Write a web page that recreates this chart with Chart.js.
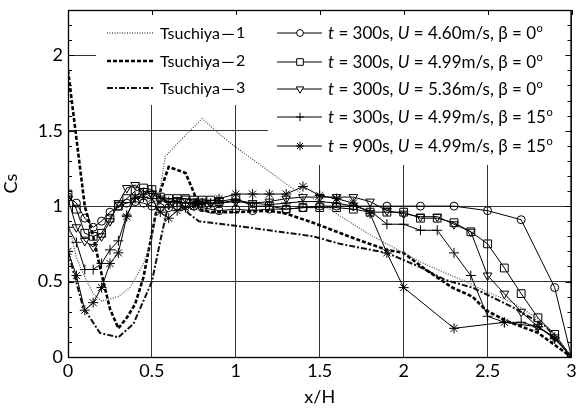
<!DOCTYPE html>
<html>
<head>
<meta charset="utf-8">
<script src="https://cdn.jsdelivr.net/npm/chart.js@4.4.1/dist/chart.umd.min.js"></script>
<style>
  html, body { margin: 0; padding: 0; background: #fff; }
  #wrap { width: 578px; height: 409px; }
</style>
</head>
<body>
<div id="wrap"><canvas id="cs" width="578" height="409"></canvas></div>
<script>
// x ticks / y ticks
const xTicks = [0, 0.5, 1, 1.5, 2, 2.5, 3];
const yMajor = [0, 0.5, 1, 1.5, 2];

// Tsuchiya reference curves
const tsu1X = [0, 0.05, 0.1, 0.15, 0.2, 0.3, 0.37, 0.45, 0.5, 0.58, 0.7, 0.8, 0.9, 1.0, 1.1, 1.2, 1.32, 1.4, 1.5, 1.6, 1.7, 1.8, 1.9, 2.0, 2.1, 2.2, 2.37, 2.5, 2.65, 2.79, 2.9, 3.0];
const tsu1Y = [0.90, 0.66, 0.53, 0.42, 0.37, 0.40, 0.46, 0.62, 0.78, 1.33, 1.47, 1.58, 1.48, 1.39, 1.31, 1.23, 1.13, 1.08, 1.03, 0.95, 0.88, 0.81, 0.75, 0.69, 0.63, 0.58, 0.50, 0.43, 0.36, 0.26, 0.15, 0];
const tsu2X = [0, 0.05, 0.1, 0.15, 0.2, 0.25, 0.3, 0.35, 0.4, 0.45, 0.5, 0.55, 0.6, 0.7, 0.75, 0.78, 0.85, 1.0, 1.2, 1.3, 1.46, 1.72, 1.9, 2.0, 2.13, 2.29, 2.41, 2.49, 2.61, 2.8, 3.0];
const tsu2Y = [1.90, 1.45, 1.00, 0.80, 0.55, 0.32, 0.19, 0.26, 0.35, 0.53, 0.82, 1.10, 1.26, 1.22, 1.09, 0.98, 0.96, 0.96, 0.97, 0.95, 0.89, 0.78, 0.71, 0.69, 0.58, 0.46, 0.40, 0.31, 0.24, 0.16, 0];
const tsu3X = [0, 0.09, 0.19, 0.3, 0.39, 0.5, 0.55, 0.59, 0.65, 0.72, 0.78, 1.0, 1.26, 1.46, 1.62, 1.9, 2.09, 2.25, 2.41, 2.65, 2.85, 3.0];
const tsu3Y = [0.70, 0.33, 0.16, 0.13, 0.22, 0.50, 0.77, 0.97, 1.04, 0.95, 0.90, 0.87, 0.83, 0.80, 0.75, 0.69, 0.60, 0.51, 0.46, 0.33, 0.20, 0];

// measured series
const circX = [0, 0.05, 0.1, 0.15, 0.2, 0.25, 0.3, 0.35, 0.4, 0.45, 0.5, 0.55, 0.6, 0.65, 0.7, 0.75, 0.8, 0.85, 0.9, 1.0, 1.1, 1.2, 1.3, 1.4, 1.5, 1.6, 1.7, 1.9, 2.1, 2.3, 2.5, 2.7, 2.9, 3.0];
const circY = [1.06, 1.02, 0.92, 0.86, 0.90, 0.96, 1.00, 1.02, 1.03, 1.02, 1.00, 0.99, 0.99, 1.00, 1.00, 1.00, 0.99, 0.98, 0.97, 0.98, 0.97, 0.98, 0.98, 0.99, 1.00, 1.00, 1.00, 1.00, 1.00, 1.00, 0.97, 0.91, 0.46, 0];
const fineX = [0, 0.05, 0.1, 0.15, 0.2, 0.25, 0.3, 0.35, 0.4, 0.45, 0.5, 0.55, 0.6, 0.65, 0.7, 0.75, 0.8, 0.85, 0.9, 1.0, 1.1, 1.2, 1.3, 1.4, 1.5, 1.6, 1.7, 1.8, 1.9, 2.0, 2.1, 2.2, 2.3, 2.4, 2.5, 2.6, 2.7, 2.8, 2.9, 3.0];
const sqY = [1.08, 0.98, 0.82, 0.80, 0.82, 0.92, 1.00, 1.05, 1.10, 1.12, 1.11, 1.06, 1.05, 1.05, 1.05, 1.04, 1.04, 1.04, 1.03, 1.05, 1.00, 1.00, 0.98, 0.99, 0.99, 0.99, 0.98, 0.96, 0.96, 0.96, 0.92, 0.92, 0.89, 0.83, 0.75, 0.59, 0.42, 0.26, 0.15, 0];
const triY = [1.05, 0.86, 0.77, 0.73, 0.80, 0.90, 1.02, 1.12, 1.14, 1.10, 1.08, 1.05, 1.03, 1.04, 1.05, 1.03, 1.03, 1.02, 1.02, 1.03, 1.02, 1.03, 1.05, 1.06, 1.06, 1.06, 1.06, 1.03, 0.97, 0.95, 0.93, 0.93, 0.88, 0.83, 0.54, 0.42, 0.30, 0.20, 0.13, 0];
const plusY = [0.86, 0.76, 0.58, 0.58, 0.62, 0.71, 0.77, 0.94, 1.05, 1.08, 1.10, 1.05, 1.03, 1.03, 1.02, 1.02, 1.02, 1.02, 1.02, 1.04, 1.02, 1.01, 1.02, 1.03, 1.03, 1.02, 1.00, 0.97, 0.88, 0.88, 0.84, 0.84, 0.69, 0.54, 0.27, 0.23, 0.23, 0.20, 0.13, 0];
const starX = [0, 0.05, 0.1, 0.15, 0.2, 0.25, 0.3, 0.35, 0.4, 0.45, 0.5, 0.55, 0.6, 0.65, 0.7, 0.75, 0.8, 0.9, 1.0, 1.1, 1.2, 1.3, 1.4, 1.5, 1.6, 1.7, 1.8, 1.9, 2.0, 2.3, 2.6, 2.8, 2.9, 3.0];
const starY = [0.70, 0.54, 0.31, 0.36, 0.46, 0.62, 0.69, 0.93, 1.06, 1.06, 1.05, 0.96, 0.92, 0.97, 0.99, 1.00, 1.02, 1.05, 1.08, 1.08, 1.08, 1.08, 1.13, 1.07, 1.05, 1.02, 0.95, 0.69, 0.46, 0.19, 0.23, 0.20, 0.12, 0];

const tsuNums = ['1', '2', '3'];
const runTimes = ['300s', '300s', '300s', '300s', '900s'];
const runSpeeds = ['4.60m/s', '4.99m/s', '5.36m/s', '4.99m/s', '4.99m/s'];
const runAngles = ['0', '0', '0', '15', '15'];

const FONT = 'Lato, "Open Sans", sans-serif';

function pts(xs, ys) { return xs.map((x, i) => ({ x: x, y: ys[i] })); }

function tsuSet(xs, ys, dash, width, color) {
    return { data: pts(xs, ys), borderColor: color, borderWidth: width, borderDash: dash,
             pointRadius: 0, fill: false, tension: 0 };
}
function runSet(xs, ys, style, r, rot) {
    return { data: pts(xs, ys), borderColor: '#000', borderWidth: 1, pointStyle: style,
             pointRadius: r, pointRotation: rot || 0, pointBorderColor: '#000',
             pointBackgroundColor: 'rgba(255,255,255,0)', pointBorderWidth: 1, fill: false, tension: 0 };
}

const datasets = [
    tsuSet(tsu1X, tsu1Y, [1, 1.5], 1.3, '#555'),
    tsuSet(tsu2X, tsu2Y, [4, 2], 2.6, '#000'),
    tsuSet(tsu3X, tsu3Y, [6, 2, 2, 2], 2, '#111'),
    runSet(circX, circY, 'circle', 4),
    runSet(fineX, sqY, 'rect', 5.5),
    runSet(fineX, triY, 'triangle', 5, 180),
    runSet(fineX, plusY, 'cross', 5),
    runSet(starX, starY, 'star', 5)
];

// white legend boxes, inward ticks, frame, legend entries
const decor = {
    id: 'decor',
    beforeDatasetsDraw(chart) {
        const { ctx, chartArea: a } = chart;
        ctx.save();
        ctx.fillStyle = '#fff';
        ctx.fillRect(96, a.top + 1, 172, 94);
        ctx.fillRect(268, a.top + 1, a.right - 269, 154);
        ctx.restore();
    },
    afterDraw(chart) {
        const { ctx, chartArea: a, scales } = chart;
        const xs = scales.x, ys = scales.y;
        ctx.save();
        ctx.strokeStyle = '#000';
        ctx.lineWidth = 1;
        ctx.beginPath();
        for (let i = 0; i <= 23; i++) {
            const v = i / 10;
            const py = Math.round(ys.getPixelForValue(v)) + 0.5;
            const major = i % 5 === 0;
            ctx.moveTo(a.left, py); ctx.lineTo(a.left + (major ? 6 : 4), py);
            ctx.moveTo(a.right, py); ctx.lineTo(a.right - (major ? 6 : 4), py);
        }
        xTicks.forEach(v => {
            const px = Math.round(xs.getPixelForValue(v)) + 0.5;
            ctx.moveTo(px, a.top); ctx.lineTo(px, a.top + 5);
        });
        ctx.stroke();
        ctx.lineWidth = 1.3;
        ctx.strokeRect(a.left + 0.5, a.top + 0.5, a.right - a.left - 1, a.bottom - a.top);

        // Tsuchiya legend
        ctx.textBaseline = 'middle';
        ctx.fillStyle = '#000';
        const rowsL = [33, 61, 88];
        [0, 1, 2].forEach(i => {
            const ds = chart.data.datasets[i];
            ctx.save();
            ctx.strokeStyle = ds.borderColor;
            ctx.lineWidth = ds.borderWidth;
            ctx.setLineDash(ds.borderDash);
            ctx.beginPath();
            ctx.moveTo(107, rowsL[i]); ctx.lineTo(153, rowsL[i]);
            ctx.stroke();
            ctx.restore();
            ctx.font = '16px ' + FONT;
            ctx.fillText('Tsuchiya', 160, rowsL[i] + 1);
            let x = 160 + ctx.measureText('Tsuchiya').width;
            ctx.font = '16px "Noto Sans CJK JP"';
            ctx.fillText('\uFF0D', x, rowsL[i] + 1);
            x += ctx.measureText('\uFF0D').width;
            ctx.font = '16px ' + FONT;
            ctx.fillText(tsuNums[i], x, rowsL[i]);
        });

        // run legend
        const rowsR = [33, 62, 89, 117, 146];
        [3, 4, 5, 6, 7].forEach((d, i) => {
            const ds = chart.data.datasets[d];
            const y = rowsR[i];
            ctx.beginPath();
            ctx.strokeStyle = '#000';
            ctx.lineWidth = 1;
            ctx.moveTo(277, y); ctx.lineTo(322, y);
            ctx.stroke();
            ctx.save();
            ctx.fillStyle = '#fff';
            ctx.strokeStyle = '#000';
            Chart.helpers.drawPoint(ctx, {
                pointStyle: ds.pointStyle, radius: ds.pointRadius * 0.85,
                rotation: ds.pointRotation, borderWidth: 1
            }, 300, y);
            ctx.restore();
            const runs = [
                ['t', 'italic '], [' = ' + runTimes[i] + ', ', ''], ['U', 'italic '],
                [' = ' + runSpeeds[i] + ', \u03B2 = ' + runAngles[i], '']
            ];
            let x = 328;
            runs.forEach(r => {
                ctx.font = r[1] + '17px ' + FONT;
                ctx.fillText(r[0], x, y + 1);
                x += ctx.measureText(r[0]).width;
            });
            ctx.font = '11px ' + FONT;
            ctx.fillText('o', x + 0.5, y - 5);
        });
        ctx.restore();
    }
};

new Chart(document.getElementById('cs'), {
    type: 'line',
    data: { datasets: datasets },
    options: {
        responsive: false,
        animation: false,
        layout: { padding: { top: 10, right: 5, left: 0, bottom: 0 } },
        plugins: { legend: { display: false }, tooltip: { enabled: false } },
        scales: {
            x: {
                type: 'linear', min: 0, max: 3,
                afterBuildTicks: s => { s.ticks = xTicks.map(v => ({ value: v })); },
                ticks: { color: '#000', font: { family: FONT, size: 18 }, padding: 3, maxRotation: 0,
                         callback: v => String(v) },
                grid: { color: '#333', lineWidth: 1, drawTicks: false },
                border: { display: false },
                title: { display: true, text: 'x/H', color: '#000', font: { family: FONT, size: 18 }, padding: { top: 0, bottom: 1 } },
                afterFit: s => { s.height = 52; s.paddingLeft = 0; s.paddingRight = 0; }
            },
            y: {
                type: 'linear', min: 0, max: 2.3,
                afterBuildTicks: s => { s.ticks = yMajor.map(v => ({ value: v })); },
                ticks: { color: '#000', font: { family: FONT, size: 18 }, padding: 5,
                         callback: v => String(v) },
                grid: { color: '#333', lineWidth: 1, drawTicks: false },
                border: { display: false },
                title: { display: true, text: 'Cs', color: '#000', font: { family: FONT, size: 18 }, padding: { top: 0, bottom: 6 } },
                afterFit: s => { s.width = 68; s.paddingTop = 0; s.paddingBottom = 0; }
            }
        }
    },
    plugins: [decor]
});
</script>
</body>
</html>
